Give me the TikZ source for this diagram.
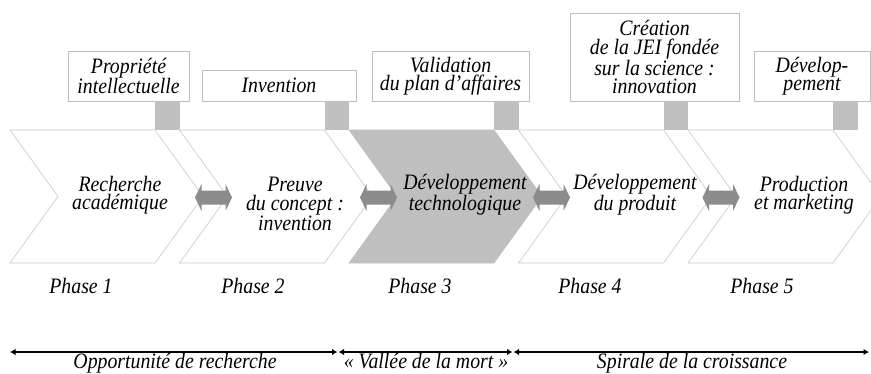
\documentclass[tikz,border=0pt]{standalone}
\usepackage{fontspec}
\setmainfont{Liberation Serif}
\newfontfamily\condserif[FakeStretch=0.9]{Liberation Serif}
\definecolor{chevline}{RGB}{200,200,200}
\definecolor{chevfill}{RGB}{191,191,191}
\definecolor{sqfill}{RGB}{192,192,192}
\definecolor{boxline}{RGB}{190,190,190}
\definecolor{arrfill}{RGB}{140,140,140}
\usetikzlibrary{arrows.meta}
\tikzset{
  txt/.style={font=\condserif\fontsize{22}{18.5}\selectfont\itshape, align=center, inner sep=0pt},
  chev/.style={draw=chevline, line width=0.6pt, fill=white},
  chevgrey/.style={draw=chevfill, line width=0.6pt, fill=chevfill},
  sq/.style={fill=sqfill, draw=none},
  topbox/.style={draw=boxline, line width=0.8pt, fill=white, txt},
  span/.style={line width=1.1pt, {Latex[length=5.5pt,width=6.5pt]}-{Latex[length=5.5pt,width=6.5pt]}},
  pics/dblarrow/.style={code={
    \fill[arrfill] (-18.5,0) -- (-12,-13.5) -- (-12,-7) -- (12,-7) -- (12,-13.5) -- (18.5,0)
      -- (12,13.5) -- (12,7) -- (-12,7) -- (-12,13.5) -- cycle;}}
}
\begin{document}
\begin{tikzpicture}[x=1pt,y=-1pt]
\useasboundingbox (0,0) rectangle (871,373);
\clip (0,0) rectangle (871,373);
% chevrons
\foreach \s/\st in {10/chev,179.5/chev,349/chevgrey,518.5/chev,688/chev}{
  \draw[\st] (\s,130) -- ++(145,0) -- ++(48,66.5) -- ++(-48,66.5) -- ++(-145,0) -- ++(48,-66.5) -- cycle;
}
% squares
\foreach \s in {155,324.5,494,663.5,833}{
  \fill[sq] (\s,101) rectangle ++(24.5,29);
}
% top boxes
\node[topbox, minimum width=121pt, minimum height=50pt] (b1) at (128.5,76) {Propriété\\intellectuelle};
\node[topbox, minimum width=154pt, minimum height=31pt] (b2) at (279,85.5) {Invention};
\node[topbox, minimum width=157pt, minimum height=50pt] (b3) at (450.5,76) {Validation\\du plan d’affaires};
\node[topbox, minimum width=169pt, minimum height=88pt] (b4) at (654.5,57) {Création\\de la JEI fondée\\sur la science :\\innovation};
\node[topbox, minimum width=116pt, minimum height=50pt] (b5) at (812,76) {Dévelop-\\pement};
% chevron texts
\node[txt] (c1) at (120,195) {Recherche\\académique};
\node[txt] (c2) at (295,204) {Preuve\\du concept :\\invention};
\node[txt] (c3) at (465,195) {Développement\\technologique};
\node[txt] (c4) at (635,195) {Développement\\du produit};
\node[txt] (c5) at (804,195) {Production\\et marketing};
% double arrows
\pic at (213.5,197.5) {dblarrow};
\pic at (378.5,197.5) {dblarrow};
\pic at (551.5,197.5) {dblarrow};
\pic at (721,197.5) {dblarrow};
% phases
\foreach \x/\n in {81/1,253/2,420/3,590/4,762/5}{
  \node[txt, anchor=base] (p\n) at (\x,293) {Phase \n};
}
% bottom spans
\coordinate (e0) at (10,352);
\coordinate (e1a) at (337.5,352);
\coordinate (e1b) at (338.5,352);
\coordinate (e2a) at (512.5,352);
\coordinate (e2b) at (513.5,352);
\coordinate (e3) at (869,352);
\draw[span] (e0) -- (e1a);
\draw[span] (e1b) -- (e2a);
\draw[span] (e2b) -- (e3);
\node[txt, anchor=base] (l1) at (175,368.5) {Opportunité de recherche};
\node[txt, anchor=base] (l2) at (426,368.5) {« Vallée de la mort »};
\node[txt, anchor=base] (l3) at (692,368.5) {Spirale de la croissance};
\end{tikzpicture}
\end{document}
